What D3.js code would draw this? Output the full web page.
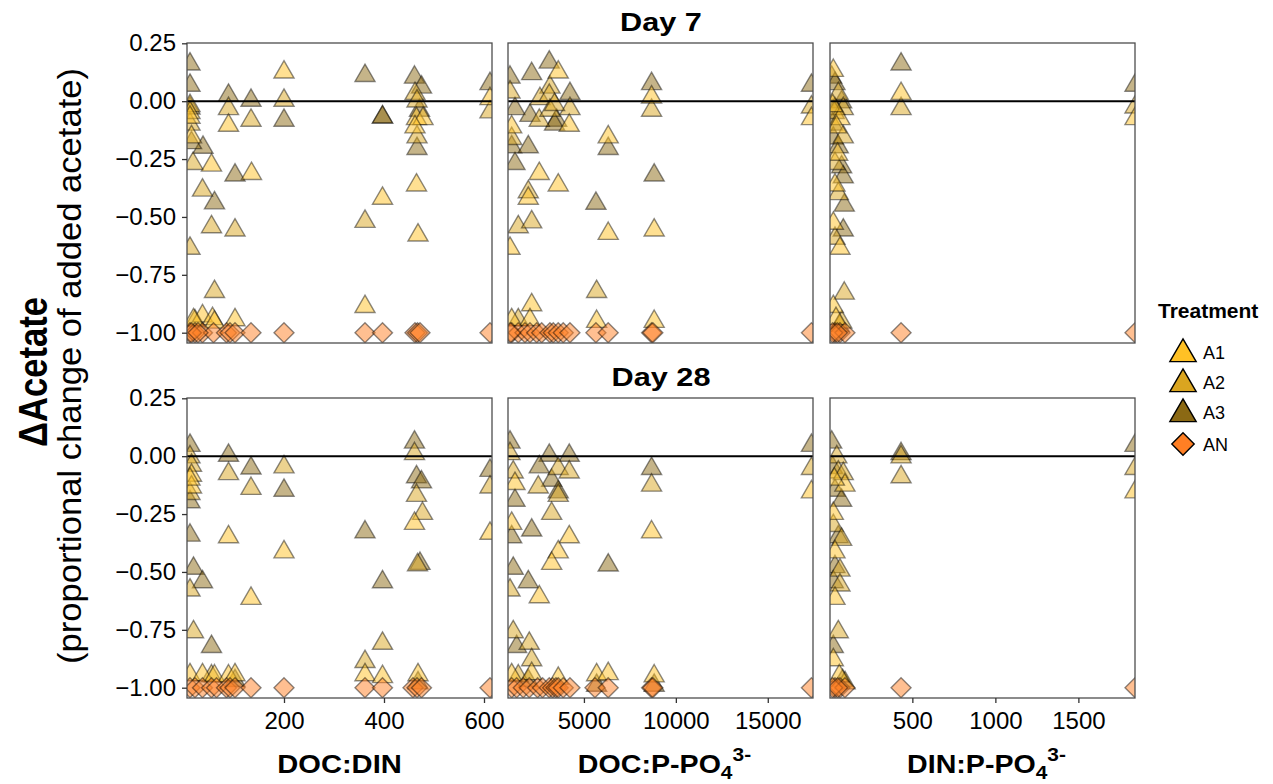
<!DOCTYPE html>
<html>
<head>
<meta charset="utf-8">
<script src="https://cdn.jsdelivr.net/npm/d3@7"></script>
<style>
  html, body { margin: 0; padding: 0; background: #fff; }
  svg { display: block; }
  text { font-family: "Liberation Sans", Arial, sans-serif; fill: #000; }
</style>
</head>
<body>
<svg id="chart" width="1273" height="784"></svg>
<script>
// ---- Data: [treatment, x ratio, proportional change of acetate] ----
const treatments = ["A1", "A2", "A3", "AN"];
const dayLabels = ["Day 7", "Day 28"];
const yTicks = [0.25, 0, -0.25, -0.5, -0.75, -1];
const ticksDocDin = [200, 400, 600];
const ticksDocP = [5000, 10000, 15000];
const ticksDinP = [500, 1000, 1500];

const day7DocDin = [
  ["A3",12,0.16],["A3",12,0.068],["A3",89,0.025],["A3",134,0.003],["A3",200,-0.083],["A3",102,-0.32],["A3",61,-0.44],
  ["A3",362,0.11],["A3",397,-0.069],["A3",397,-0.069],["A3",461,0.103],["A3",475,0.06],["A3",471,-0.04],["A3",466,-0.205],
  ["A3",612,0.075],["A3",38,-0.2],["A3",12,-0.03],["A3",15,-0.18],
  ["A2",12,-0.02],["A2",89,-0.033],["A2",134,-0.083],["A2",200,0.003],["A2",37,-0.385],["A2",55,-0.543],["A2",102,-0.557],
  ["A2",12,-0.636],["A2",61,-0.823],["A2",362,-0.52],["A2",462,0.032],["A2",466,0.0],["A2",466,-0.155],["A2",612,-0.047],
  ["A2",18,-0.27],["A2",12,-0.1],["A2",22,-0.95],
  ["A1",12,-0.05],["A1",89,-0.105],["A1",200,0.125],["A1",135,-0.313],["A1",55,-0.277],["A1",397,-0.42],["A1",362,-0.888],
  ["A1",465,-0.076],["A1",478,-0.076],["A1",462,-0.112],["A1",465,-0.363],["A1",468,-0.579],["A1",612,0.01],["A1",15,-0.155],
  ["A1",37,-0.928],["A1",57,-0.94],["A1",102,-0.945],["A1",12,-0.07],["A1",19,-0.945],["A1",61,-0.955],
  ["AN",12,-1],["AN",22,-1],["AN",37,-1],["AN",59,-1],["AN",85,-1],["AN",92,-1],["AN",102,-1],["AN",134,-1],["AN",200,-1],
  ["AN",362,-1],["AN",397,-1],["AN",462,-1],["AN",467,-1],["AN",472,-1],["AN",612,-1],["AN",15,-1],["AN",28,-1]
];

const day7DocP = [
  ["A3",978,0.103],["A3",1250,-0.033],["A3",1250,-0.27],["A3",1070,-0.198],["A3",1973,-0.198],["A3",2158,0.118],["A3",3114,0.168],
  ["A3",4239,0.032],["A3",2065,-0.062],["A3",3516,-0.083],["A3",3400,-0.1],["A3",6321,-0.205],["A3",8679,0.075],["A3",8821,-0.32],
  ["A3",5652,-0.442],["A3",17375,0.068],
  ["A2",978,0.039],["A2",1070,-0.162],["A2",3152,0.06],["A2",2609,0.01],["A2",3114,0.025],["A2",4239,-0.033],["A2",2571,-0.083],
  ["A2",3152,-0.04],["A2",3400,-0.015],["A2",8679,-0.04],["A2",1973,-0.392],["A2",1429,-0.543],["A2",2158,-0.522],["A2",5690,-0.823],
  ["A2",17375,-0.026],["A2",1429,-0.945],
  ["A1",1070,-0.112],["A1",3603,0.125],["A1",4201,-0.105],["A1",6321,-0.155],["A1",8679,0.017],["A1",2571,-0.313],["A1",3603,-0.363],
  ["A1",1973,-0.42],["A1",6321,-0.572],["A1",8821,-0.557],["A1",978,-0.636],["A1",2158,-0.88],["A1",1070,-0.945],["A1",2065,-0.945],
  ["A1",5690,-0.952],["A1",8821,-0.952],["A1",17375,-0.076],
  ["AN",1070,-1],["AN",1429,-1],["AN",1793,-1],["AN",2065,-1],["AN",2429,-1],["AN",2701,-1],["AN",3152,-1],["AN",3332,-1],
  ["AN",3603,-1],["AN",3875,-1],["AN",4239,-1],["AN",5652,-1],["AN",6321,-1],["AN",8679,-1],["AN",8750,-1],["AN",17375,-1],["AN",1000,-1]
];

const day7DinP = [
  ["A3",432,0.16],["A3",14,0.103],["A3",34,0.075],["A3",74,-0.004],["A3",34,-0.033],["A3",24,-0.16],["A3",54,-0.198],
  ["A3",74,-0.284],["A3",84,-0.328],["A3",90,-0.45],["A3",84,-0.557],["A3",1841,0.068],["A3",20,-0.1],["A3",60,-0.97],
  ["A2",432,-0.033],["A2",54,0.032],["A2",84,-0.033],["A2",84,-0.155],["A2",34,-0.27],["A2",54,-0.4],["A2",34,-0.593],
  ["A2",90,-0.83],["A2",1841,-0.026],["A2",30,-0.05],["A2",75,-0.955],
  ["A1",432,0.032],["A1",24,0.132],["A1",64,-0.076],["A1",44,-0.112],["A1",34,-0.363],["A1",24,-0.528],["A1",64,-0.636],
  ["A1",24,-0.888],["A1",1841,-0.076],["A1",40,-0.94],["A1",20,-0.02],["A1",50,-0.23],
  ["AN",34,-1],["AN",64,-1],["AN",94,-1],["AN",20,-1],["AN",48,-1],["AN",432,-1],["AN",1841,-1]
];

const day28DocDin = [
  ["A3",12,0.046],["A3",12,-0.198],["A3",89,0.003],["A3",134,-0.052],["A3",200,-0.148],["A3",12,-0.342],["A3",19,-0.485],
  ["A3",37,-0.543],["A3",55,-0.823],["A3",362,-0.328],["A3",397,-0.543],["A3",461,0.06],["A3",465,-0.09],["A3",475,-0.112],
  ["A3",472,-0.464],["A3",612,-0.062],["A3",468,-0.98],["A3",102,-0.97],
  ["A2",12,-0.004],["A2",15,-0.04],["A2",12,-0.162],["A2",89,-0.076],["A2",134,-0.14],["A2",200,-0.047],["A2",12,-0.579],
  ["A2",19,-0.759],["A2",397,-0.809],["A2",362,-0.888],["A2",461,0.01],["A2",465,-0.17],["A2",477,-0.248],["A2",467,-0.47],
  ["A2",612,-0.134],["A2",55,-0.95],
  ["A1",15,-0.083],["A1",15,-0.134],["A1",89,-0.349],["A1",200,-0.414],["A1",134,-0.615],["A1",362,-0.945],["A1",397,-0.953],
  ["A1",461,-0.291],["A1",612,-0.334],["A1",468,-0.945],["A1",12,-0.945],["A1",37,-0.945],["A1",61,-0.95],["A1",89,-0.95],
  ["A1",102,-0.945],["A1",12,-0.1],
  ["AN",12,-1],["AN",22,-1],["AN",37,-1],["AN",55,-1],["AN",65,-1],["AN",85,-1],["AN",92,-1],["AN",102,-1],["AN",134,-1],
  ["AN",200,-1],["AN",362,-1],["AN",397,-1],["AN",458,-1],["AN",466,-1],["AN",475,-1],["AN",612,-1]
];

const day28DocP = [
  ["A3",978,0.06],["A3",1250,-0.191],["A3",1070,-0.349],["A3",1155,-0.485],["A3",1340,-0.823],["A3",1973,-0.543],["A3",2158,-0.32],
  ["A3",3114,0.003],["A3",4201,0.003],["A3",2571,-0.047],["A3",3245,-0.105],["A3",3603,-0.155],["A3",6321,-0.471],["A3",8679,-0.054],
  ["A3",17375,0.046],["A3",5690,-0.99],["A3",8821,-0.99],["A3",1973,-0.97],
  ["A2",978,0.01],["A2",1155,-0.069],["A2",978,-0.579],["A2",1155,-0.759],["A2",2027,-0.809],["A2",2158,-0.88],["A2",3603,-0.054],
  ["A2",4201,-0.069],["A2",2516,-0.134],["A2",3603,-0.17],["A2",3245,-0.248],["A2",8679,-0.126],["A2",17375,-0.054],["A2",1430,-0.95],
  ["A1",1250,-0.119],["A1",1070,-0.291],["A1",2571,-0.608],["A1",4201,-0.349],["A1",3603,-0.414],["A1",3245,-0.464],["A1",8679,-0.328],
  ["A1",17375,-0.155],["A1",1070,-0.945],["A1",2158,-0.94],["A1",3603,-0.96],["A1",5690,-0.945],["A1",6321,-0.94],["A1",8821,-0.95],
  ["AN",1070,-1],["AN",1340,-1],["AN",1700,-1],["AN",2027,-1],["AN",2480,-1],["AN",2750,-1],["AN",3114,-1],["AN",3300,-1],
  ["AN",3480,-1],["AN",3603,-1],["AN",3875,-1],["AN",4239,-1],["AN",5600,-1],["AN",6321,-1],["AN",8679,-1],["AN",8750,-1],["AN",17375,-1]
];

const day28DinP = [
  ["A3",432,0.01],["A3",14,0.06],["A3",34,-0.148],["A3",74,-0.191],["A3",54,-0.349],["A3",34,-0.478],["A3",24,-0.543],
  ["A3",24,-0.823],["A3",1841,0.046],["A3",80,-0.97],["A3",20,-0.05],
  ["A2",432,-0.004],["A2",432,-0.09],["A2",45,-0.004],["A2",54,-0.069],["A2",84,-0.076],["A2",24,-0.3],["A2",74,-0.36],
  ["A2",64,-0.493],["A2",64,-0.557],["A2",54,-0.759],["A2",1841,-0.054],["A2",95,-0.98],
  ["A1",94,-0.126],["A1",24,-0.248],["A1",34,-0.414],["A1",34,-0.615],["A1",24,-0.88],["A1",1841,-0.155],["A1",60,-0.95],["A1",30,-0.1],
  ["AN",34,-1],["AN",64,-1],["AN",94,-1],["AN",20,-1],["AN",50,-1],["AN",432,-1],["AN",1841,-1]
];

// ---- Layout ----
const colors = { A1: "#FFC125", A2: "#DAA520", A3: "#8B6914", AN: "#FF7F24" };
const colX = [[187, 492], [508, 813], [830, 1135]];
const rowY = [[43, 343], [398, 698]];
const xDomains = [[6, 616], [870, 17460], [4, 1841]];
const yDomain = [-1.0445, 0.2513];
const xTicks = [ticksDocDin, ticksDocP, ticksDinP];
const panelData = [[day7DocDin, day7DocP, day7DinP], [day28DocDin, day28DocP, day28DinP]];

const svg = d3.select("#chart");
const defs = svg.append("defs");

const triPath = d3.symbol().type(d3.symbolTriangle).size(175)();
const diaPath = d3.symbol().type(d3.symbolSquare).size(200)();
const triLegend = d3.symbol().type(d3.symbolTriangle).size(300)();
const diaLegend = d3.symbol().type(d3.symbolSquare).size(250)();

const fmtY = v => d3.format(".2f")(v).replace("-", "\u2212");

// widen a text element horizontally by a factor, keeping its anchor
function stretch(sel, k) {
  sel.each(function () {
    const w = this.getComputedTextLength();
    d3.select(this).attr("textLength", w * k).attr("lengthAdjust", "spacingAndGlyphs");
  });
  return sel;
}

rowY.forEach((ry, r) => {
  const y = d3.scaleLinear().domain(yDomain).range([ry[1], ry[0]]);
  colX.forEach((cx, c) => {
    const x = d3.scaleLinear().domain(xDomains[c]).range(cx);
    const id = `clip-${r}-${c}`;
    defs.append("clipPath").attr("id", id)
      .append("rect").attr("x", cx[0]).attr("y", ry[0])
      .attr("width", cx[1] - cx[0]).attr("height", ry[1] - ry[0]);

    const g = svg.append("g").attr("clip-path", `url(#${id})`);
    g.selectAll("path.pt")
      .data(panelData[r][c])
      .join("path")
      .attr("class", "pt")
      .attr("d", d => d[0] === "AN" ? diaPath : triPath)
      .attr("transform", d => `translate(${x(d[1])},${y(d[2])})` + (d[0] === "AN" ? " rotate(45)" : ""))
      .attr("fill", d => colors[d[0]])
      .attr("fill-opacity", 0.5)
      .attr("stroke", "#000")
      .attr("stroke-opacity", 0.45)
      .attr("stroke-width", 1.4);

    // reference line at zero change
    g.append("line")
      .attr("x1", cx[0]).attr("x2", cx[1])
      .attr("y1", y(0)).attr("y2", y(0))
      .attr("stroke", "#000").attr("stroke-width", 2);

    // panel border
    svg.append("rect")
      .attr("x", cx[0]).attr("y", ry[0])
      .attr("width", cx[1] - cx[0]).attr("height", ry[1] - ry[0])
      .attr("fill", "none").attr("stroke", "#4d4d4d").attr("stroke-width", 1.3);

    if (c === 0) {
      const ax = svg.append("g").attr("transform", `translate(${cx[0]},0)`)
        .call(d3.axisLeft(y).tickValues(yTicks).tickFormat(fmtY).tickSize(5).tickPadding(6));
      ax.select(".domain").remove();
      ax.selectAll(".tick line").attr("stroke", "#333").attr("stroke-width", 1.3);
      ax.selectAll(".tick text").attr("font-size", 24).attr("font-family", "Liberation Sans, Arial, sans-serif").attr("fill", "#000");
    }
    if (r === 1) {
      const ax = svg.append("g").attr("transform", `translate(0,${ry[1]})`)
        .call(d3.axisBottom(x).tickValues(xTicks[c]).tickFormat(d3.format("d")).tickSize(5).tickPadding(9));
      ax.select(".domain").remove();
      ax.selectAll(".tick line").attr("stroke", "#333").attr("stroke-width", 1.3);
      ax.selectAll(".tick text").attr("font-size", 24).attr("font-family", "Liberation Sans, Arial, sans-serif").attr("fill", "#000");
    }
  });

  const title = svg.append("text")
    .attr("x", (colX[0][0] + colX[2][1]) / 2).attr("y", ry[0] - 12)
    .attr("text-anchor", "middle").attr("font-weight", "bold").attr("font-size", 26)
    .text(dayLabels[r]);
  stretch(title, 1.18);
});

// x-axis titles
const xTitleY = 773;
const xt1 = svg.append("text").attr("x", (colX[0][0] + colX[0][1]) / 2).attr("y", xTitleY)
  .attr("text-anchor", "middle").attr("font-weight", "bold").attr("font-size", 26).text("DOC:DIN");
stretch(xt1, 1.12);
[["DOC:P-PO", 1], ["DIN:P-PO", 2]].forEach(([lab, c]) => {
  const t = svg.append("text").attr("x", (colX[c][0] + colX[c][1]) / 2 + 4).attr("y", xTitleY)
    .attr("text-anchor", "middle").attr("font-weight", "bold").attr("font-size", 26);
  t.append("tspan").text(lab);
  t.append("tspan").attr("font-size", 19).attr("dy", 6).text("4");
  t.append("tspan").attr("font-size", 19).attr("dy", -18).text("3-");
  stretch(t, 1.1);
});

// y-axis title
const yt1 = svg.append("text")
  .attr("transform", `translate(47,372) rotate(-90)`)
  .attr("text-anchor", "middle").attr("font-weight", "bold").attr("font-size", 40)
  .text("\u0394Acetate");
yt1.attr("textLength", 150).attr("lengthAdjust", "spacingAndGlyphs");
const yt2 = svg.append("text")
  .attr("transform", `translate(81,366) rotate(-90)`)
  .attr("text-anchor", "middle").attr("font-size", 33)
  .text("(proportional change of added acetate)");
yt2.attr("textLength", 596).attr("lengthAdjust", "spacingAndGlyphs");

// legend
const lg = svg.append("g");
lg.append("text").attr("x", 1158).attr("y", 318).attr("font-weight", "bold").attr("font-size", 21).text("Treatment");
const legendRows = [352, 382, 412, 444];
treatments.forEach((t, i) => {
  const yy = legendRows[i];
  lg.append("path")
    .attr("d", t === "AN" ? diaLegend : triLegend)
    .attr("transform", `translate(1183,${yy + (t === "AN" ? 0 : 2)})` + (t === "AN" ? " rotate(45)" : ""))
    .attr("fill", colors[t]).attr("stroke", "#000").attr("stroke-width", 1.4);
  lg.append("text").attr("x", 1203).attr("y", yy + 6.5).attr("font-size", 18).text(t);
});
</script>
</body>
</html>
